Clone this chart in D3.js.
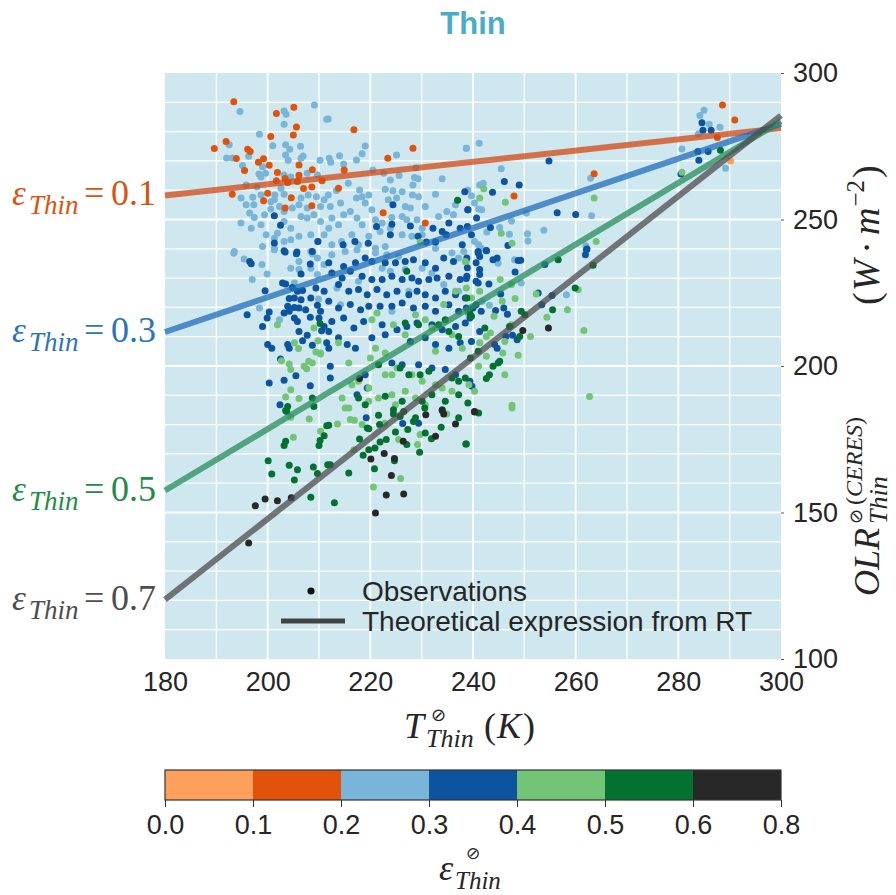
<!DOCTYPE html>
<html><head><meta charset="utf-8">
<script src="https://cdn.jsdelivr.net/npm/d3@7"></script>
<style>body{margin:0;background:#fff;}</style>
</head><body>
<svg id="chart" width="896" height="895"></svg>
<script>
// ---------------- data ----------------
const xTickValues = [180, 200, 220, 240, 260, 280, 300];
const yTickValues = [100, 150, 200, 250, 300];
const cbBounds = [0.0, 0.1, 0.2, 0.3, 0.4, 0.5, 0.6, 0.8];
const cbLabels = ["0.0", "0.1", "0.2", "0.3", "0.4", "0.5", "0.6", "0.8"];
const cbColors = ["#fda05b", "#e1530a", "#78b5d8", "#0c549f", "#72c476", "#03712f", "#282828"];

const lineEps = [0.1, 0.3, 0.5, 0.7];
const lineOLRat180 = [258.2, 211.6, 157.5, 120.3];
const lineOLRat300 = [281.2, 282.6, 283.5, 285.5];
const lineColors = ["#d34813", "#206dbb", "#288c5a", "#4e4c4e"];
const labelColors = ["#d9540c", "#2c74b5", "#238b45", "#4d4d4d"];

// observations [T (K), OLR (W m-2)], grouped by emissivity class
const obs_00_01 = [[290.2, 270.0]];
const obs_01_02 = [[193.4,290.2],[201.7,286.2],[205.1,288.3],[205.6,281.6],[205.0,278.8],[200.6,278.3],[191.9,276.6],[189.6,274.2],[196.1,274.0],[196.6,273.2],[193.9,270.8],[199.2,270.7],[198.2,269.5],[200.3,268.5],[206.1,268.6],[195.5,266.7],[208.7,267.0],[201.9,266.0],[206.1,265.1],[203.4,264.0],[201.7,263.2],[203.9,262.6],[205.8,263.0],[207.0,260.6],[208.6,261.1],[193.1,258.6],[200.0,259.0],[199.2,256.4],[204.6,257.4],[203.4,253.9],[208.6,254.7],[210.6,263.2],
  [216.8,280.6],[228.3,274.3],[223.4,270.9],[214.9,266.9],[213.8,260.7],[222.5,252.3],[230.7,248.8],[263.6,265.6],[248.0,258.0],[288.6,289.1],[291.0,284.0],[287.6,278.0]];
const obs_02_03 = [[194.6,286.9],[203.2,287.0],[203.6,285.9],[209.1,289.1],[211.5,284.2],[203.2,282.5],[198.4,279.1],[201.0,275.2],[203.5,275.5],[204.3,274.0],[206.4,275.0],[192.5,275.5],[192.0,271.0],[193.1,271.0],[196.3,271.6],[195.1,268.4],[203.5,272.0],[204.0,270.2],[206.9,271.7],[206.5,270.9],[210.2,270.2],[199.0,268.0],[199.6,265.8],[198.3,265.5],[198.7,264.5],[203.2,265.2],[204.5,264.5],[207.7,265.8],[209.7,265.2],[195.8,261.8],[197.9,261.1],[202.6,260.7],[203.2,258.6],[201.4,258.4],[194.8,257.3],[197.1,257.6],[198.7,258.4],[200.6,256.1],[195.8,255.0],[197.3,255.0],[201.3,256.7],[202.3,254.4],[206.5,257.3],[207.9,258.4],[209.5,257.8],[211.0,256.7],[210.3,254.4],[196.5,252.2],[197.4,250.7],[199.4,251.6],[200.6,253.6],[203.2,252.7],[204.8,253.9],[206.1,255.0],[207.7,253.9],[203.2,249.3],[204.5,247.0],[206.5,251.0],[207.7,250.5],[209.0,251.6],[210.3,249.3],[194.8,248.8],[196.8,247.0],[198.7,248.2],[199.7,244.8],[201.3,243.6],[201.9,245.3],[203.2,242.5],[204.5,243.1],[206.1,244.3],[208.4,244.8],[209.7,242.5],[211.0,244.8],[199.0,240.8],[201.3,240.2],[193.5,239.1],[208.4,239.1],
  [211.8,284.3],[219.0,275.1],[225.1,272.0],[217.3,270.3],[218.4,272.4],[214.0,271.8],[212.0,270.9],[212.3,269.5],[214.8,268.9],[220.5,266.9],[222.6,265.8],[228.9,267.7],[225.6,265.0],[223.9,263.5],[228.6,264.3],[229.3,263.9],[228.3,261.8],[234.0,263.9],[238.7,274.3],[215.7,262.4],[213.4,259.9],[211.8,258.4],[217.9,260.1],[222.9,260.3],[224.4,259.8],[225.1,257.3],[223.5,256.7],[219.7,258.4],[218.4,257.8],[217.3,257.3],[214.2,255.6],[212.2,254.4],[228.2,258.4],[229.4,257.8],[226.2,259.5],[232.7,258.6],[236.6,255.0],[226.8,254.4],[227.8,253.9],[230.7,254.4],[219.0,255.6],[220.3,253.3],[216.1,252.7],[214.8,251.6],[212.5,250.5],[213.8,248.2],[211.9,247.0],[217.4,250.5],[218.4,248.2],[221.0,249.9],[222.3,248.8],[224.2,250.7],[226.2,251.0],[227.1,249.9],[229.1,249.9],[230.1,247.0],[233.3,251.0],[234.9,252.7],[236.2,251.6],[214.4,242.5],[216.4,244.8],[219.7,244.3],[221.9,245.9],[223.9,247.0],[226.2,244.8],[228.1,244.3],[230.1,244.8],[232.7,242.5],[212.5,241.4],[217.7,241.4],[221.0,240.2],[222.9,240.8],[232.7,240.2],
  [241.2,276.0],[238.7,274.3],[245.5,267.3],[262.9,264.1],[241.3,261.8],[242.0,262.4],[239.0,260.1],[239.7,258.1],[240.3,255.6],[241.1,253.6],[241.7,253.3],[250.4,252.2],[247.5,249.5],[253.8,246.3],[263.1,251.3],[242.7,245.7],[245.2,247.3],[247.1,245.0],[250.6,245.1],[250.7,242.7],[240.3,242.5],[241.1,241.4],[241.6,240.2],[262.0,241.0],
  [193.4,238.5],[195.4,236.5],[198.9,234.6],[199.9,231.4],[197.0,229.5],[201.3,239.7],[204.5,233.4],[206.1,235.7],[208.7,238.2],[209.7,236.9],[211.0,234.6],[206.1,232.9],[208.4,233.4],[209.7,231.2],[209.9,222.9],[198.4,219.8],[202.3,215.8],[205.2,228.3],
  [212.5,238.0],[215.1,239.1],[217.4,239.7],[221.0,238.6],[223.2,238.0],[225.5,237.4],[222.3,233.4],[223.9,232.3],[226.8,232.9],[235.9,238.6],[237.2,236.9],[238.2,239.1],[230.1,233.4],[232.0,231.7],[213.5,226.6],[214.2,220.9],[217.7,228.9],[224.2,218.7],[227.5,225.5],[234.3,227.8],[237.2,225.5],
  [238.7,235.7],[244.9,235.1],[248.1,236.3],[249.4,228.3],[243.2,220.7],[258.2,224.3],[241.8,222.1],[239.0,218.1],
  [285.0,287.3],[284.2,285.5],[286.0,282.5],[288.1,281.5],[283.9,279.2],[280.7,274.1],[289.2,267.5]];
const obs_03_04 = [[201.3,251.3],[202.5,248.0],[201.3,242.0],[203.2,239.3],[205.7,238.9],[209.8,242.5],[208.7,239.1],
  [224.4,255.0],[221.2,247.6],[224.2,248.4],[227.8,247.8],[232.2,247.0],[234.0,245.9],[235.3,248.8],[234.8,244.8],[237.5,247.0],[238.9,247.6],[237.9,241.4],[223.9,244.8],[217.0,242.5],[219.6,241.9],[214.7,241.4],[229.3,244.3],[230.9,242.3],[232.7,242.3],[238.4,259.5],[239.0,253.3],
  [254.8,270.0],[246.1,263.0],[249.0,261.8],[243.8,259.3],[239.0,253.3],[240.7,250.5],[256.4,252.3],[260.0,251.7],[243.4,247.3],[239.7,244.8],[246.8,241.1],[242.6,239.3],[241.0,239.1],[262.2,239.9],
  [284.6,283.0],[284.8,280.5],[286.4,280.5],[283.8,273.2],[285.8,273.2],[284.0,270.2],[280.5,265.5],
  [196.5,235.7],[196.8,234.9],[203.4,238.9],[205.6,238.3],[208.3,234.8],[206.5,231.4],[202.9,228.3],[203.5,228.0],[204.8,226.8],[205.8,225.5],[206.8,225.8],[209.4,226.6],[211.0,225.5],[199.5,225.7],[204.2,223.0],[205.2,223.2],[206.5,222.6],[208.4,223.2],[203.9,220.4],[205.2,220.0],[206.1,219.8],[207.4,219.2],[209.7,220.7],[210.3,218.7],[203.2,218.1],[204.2,218.7],[200.3,218.4],[196.0,217.5],[199.9,216.4],[199.0,213.5],[205.2,216.4],[205.8,215.2],[208.3,216.6],[210.0,216.4],[211.0,213.5],[206.1,211.8],[207.7,210.5],[210.5,212.0],[206.8,208.6],[208.7,207.1],[203.9,207.3],[204.2,206.1],[200.0,207.3],[200.8,206.1],[202.5,202.4],[211.5,207.9],[205.5,196.7],[203.2,195.1],[200.3,194.2],[208.3,193.3],[202.4,186.8],
  [211.9,235.2],[214.8,234.0],[217.1,235.2],[219.0,236.9],[220.3,235.7],[222.9,235.2],[224.9,235.2],[226.8,235.7],[228.4,236.3],[230.7,235.2],[232.7,233.4],[234.3,236.9],[236.2,235.7],[238.8,236.9],[212.5,231.7],[214.5,230.0],[216.1,232.3],[218.4,230.6],[220.3,229.5],[222.3,229.5],[224.2,230.6],[226.2,229.5],[228.1,230.0],[229.4,228.9],[231.4,229.5],[233.0,230.0],[235.3,230.6],[237.5,229.5],[238.8,230.6],[213.8,227.8],[215.8,225.5],[217.7,226.1],[219.4,224.3],[221.3,226.1],[223.2,224.3],[225.2,225.5],[227.5,224.3],[229.1,225.5],[230.7,224.3],[232.7,223.2],[234.6,225.5],[236.6,224.3],[238.5,223.2],[211.9,222.1],[213.8,219.8],[216.1,221.0],[218.1,219.2],[219.7,220.4],[221.9,220.4],[224.2,220.4],[226.2,221.5],[228.4,219.8],[230.7,220.4],[232.7,218.7],[235.3,220.9],[237.2,218.7],[212.5,215.2],[214.8,216.4],[216.8,213.0],[218.7,215.2],[222.3,214.1],[225.2,212.4],[227.1,213.5],[229.1,214.7],[232.0,214.1],[234.0,212.4],[236.6,213.5],[238.5,214.7],[211.9,211.8],[213.8,209.6],[215.5,207.3],[217.1,206.1],[220.3,209.6],[222.9,210.7],[227.8,208.4],[230.7,209.6],[232.7,207.3],[235.3,206.1],[237.5,207.9],[211.9,206.1],[212.2,199.9],[224.2,201.0],[226.2,200.4],[229.4,200.4],[232.0,199.3],[234.6,198.8],[236.6,197.0],[219.0,197.0],[219.4,192.5],[217.4,190.2],[212.2,195.9],
  [241.0,238.6],[241.3,237.4],[242.6,239.4],[243.9,236.3],[244.7,236.9],[248.8,236.0],[249.3,236.1],[254.0,234.6],[262.1,239.7],[261.9,238.0],[240.6,235.2],[241.3,232.9],[241.3,231.2],[240.6,228.9],[241.0,228.3],[238.7,229.9],[238.9,233.5],[243.1,228.0],[248.2,232.1],[245.4,224.6],[238.7,219.8],[240.0,219.8],[240.6,220.9],[241.6,218.7],[244.4,218.9],[246.0,219.8],[246.7,217.7],[255.4,224.1],[253.4,220.9],[252.7,224.9],[239.4,216.4],[239.7,208.4],[241.3,211.8],[244.2,207.3],[244.7,206.1],[246.4,210.1],[247.7,210.5],[248.6,209.0],[239.4,194.8],[239.8,193.1],
  [219.2,182.3],[226.3,180.4],[229.4,180.5]];
const obs_04_05 = [[229.7,242.3],[242.1,260.5],[241.3,257.3],[246.3,255.9],[245.5,245.3],[247.6,241.9],[264.0,242.5],[263.6,257.3],[280.7,266.1],
  [201.9,214.1],[209.0,213.0],[209.8,208.6],[210.3,204.4],[205.2,207.9],[206.0,206.0],[209.4,204.8],[210.3,204.1],[202.7,201.8],[204.2,200.7],[204.5,198.8],[207.1,199.9],[208.0,201.6],[208.7,201.0],[207.6,199.1],[204.5,191.9],[203.5,189.4],[206.1,188.9],
  [204.5,182.5],[208.1,181.9],[205.0,175.7],[210.3,177.7],
  [213.8,207.9],[215.8,201.0],[220.0,202.7],[221.0,206.1],[222.9,204.4],[220.3,215.8],[221.3,218.1],[224.5,214.1],[226.8,210.7],[228.8,217.5],[230.7,215.8],[232.0,213.0],[232.7,205.0],[234.3,221.0],[236.6,225.5],[235.9,210.7],[237.9,206.1],[238.5,235.7],
  [216.4,193.6],[217.7,194.8],[219.7,192.5],[222.9,197.0],[224.2,197.0],[225.2,199.3],[228.1,197.0],[230.1,194.8],[232.7,193.6],[234.0,192.5],[235.9,191.4],[239.2,193.6],[214.5,189.1],[215.8,185.7],[219.7,188.0],[221.6,189.1],[224.2,190.2],[226.8,191.4],[228.8,189.1],[230.7,186.8],[224.9,186.8],
  [238.7,226.6],[241.3,225.5],[239.7,223.2],[245.3,229.5],[247.5,227.8],[248.2,223.0],[245.7,222.1],[244.1,217.0],[243.4,211.3],[242.6,210.1],[241.3,207.9],[246.2,208.4],[247.5,214.1],[252.3,224.6],[254.4,216.6],[258.4,219.2],[260.5,226.0],[261.6,212.1],[251.2,210.1],[248.8,203.7],[242.6,203.3],[245.8,204.4],[241.1,199.9],[246.2,197.0],[262.7,189.6],[247.6,186.6],[240.3,191.4],
  [213.6,180.2],[216.1,181.7],[216.9,181.5],[222.8,180.5],[218.4,180.0],[225.5,174.9],[229.7,176.6],[229.2,173.2],[234.9,183.6],[225.9,161.6],[220.6,158.7],[216.8,171.4],[215.1,185.7],[247.6,185.7]];
const obs_05_06 = [[237.0,256.6],[288.2,273.6],
  [210.2,214.5],[208.7,189.1],[209.0,186.2],[203.9,186.2],[203.5,184.8],
  [203.7,184.5],[203.5,174.3],[203.2,172.9],[200.1,167.7],[200.8,163.1],[204.2,166.1],[205.8,164.6],[205.2,161.1],[208.9,165.5],[209.7,163.3],[211.7,166.3],[210.0,172.9],[210.2,174.6],[211.0,176.2],[211.5,179.6],[208.4,155.2],
  [227.1,232.3],[226.8,214.7],[229.4,214.1],[235.3,211.8],[237.2,210.1],[238.8,223.2],[234.6,215.8],[233.3,214.1],[221.6,200.4],[225.8,199.3],[227.5,197.0],[229.7,197.0],[231.4,198.2],[235.9,195.9],[237.2,194.8],[238.5,195.9],[217.7,189.1],[219.0,186.8],[222.9,189.7],[226.2,188.0],[230.1,188.0],[232.0,190.2],[234.6,188.0],[237.2,190.2],[224.5,185.1],[226.5,184.5],
  [256.6,236.3],[263.4,234.4],[259.9,226.6],[255.5,219.2],[249.4,218.7],[250.1,217.5],[247.1,213.5],[249.1,210.1],[242.3,213.0],[241.0,205.0],[243.9,199.9],[244.9,201.0],[245.2,201.6],[243.2,197.0],[242.6,195.7],[239.0,187.4],[239.4,218.1],[239.7,217.0],[239.5,202.7],
  [211.9,179.8],[221.6,183.2],[224.5,183.6],[225.8,182.8],[228.8,182.3],[228.4,181.1],[219.4,178.8],[219.7,178.6],[221.8,180.0],[224.9,177.5],[227.3,178.3],[230.7,177.1],[231.9,175.2],[233.8,179.1],[234.0,185.1],[237.2,182.3],[217.9,175.1],[223.1,174.9],[221.9,174.1],[227.1,173.2],[229.6,170.6],[220.9,172.0],[219.7,171.4],[218.6,169.5],[224.7,167.7],[220.8,164.9],[212.2,166.3],[215.8,163.5],[213.0,153.3],[238.6,173.4],[230.6,185.7],
  [241.1,184.0],[238.7,173.4]];
const obs_06_08 = [[197.6,152.3],[199.5,154.6],[201.9,154.0],[204.6,155.0],[196.3,139.6],
  [217.9,195.7],[234.0,184.8],[249.7,212.1],[254.7,213.0],[240.3,184.5],
  [230.8,183.4],[234.3,183.6],[236.6,180.2],[232.7,176.0],[226.4,174.3],[222.7,170.1],[220.1,168.3],[224.7,168.4],[224.1,162.6],[223.1,156.0],[226.5,156.3],[221.0,149.8],[240.3,184.3]];

const obsGroups = [obs_00_01, obs_01_02, obs_02_03, obs_03_04, obs_04_05, obs_05_06, obs_06_08];
const drawOrder = [2, 3, 4, 5, 6, 0, 1];

// ---------------- chart ----------------
const svg = d3.select("#chart");
const L = 165, R = 781, T = 73, B = 659;
const x = d3.scaleLinear().domain([180, 300]).range([L, R]);
const y = d3.scaleLinear().domain([100, 300]).range([B, T]);
const sans = "'Liberation Sans', Arial, sans-serif";
const serif = "'Liberation Serif', 'DejaVu Serif', serif";
const symFont = "'DejaVu Sans', sans-serif";
const ink = "#262626";

svg.append("text").attr("x", (L + R) / 2).attr("y", 34).attr("text-anchor", "middle")
  .attr("font-family", sans).attr("font-weight", "bold").attr("font-size", 31)
  .attr("fill", "#4bacc9").text("Thin");

svg.append("rect").attr("x", L).attr("y", T).attr("width", R - L).attr("height", B - T).attr("fill", "#cfe8ef");

const grid = svg.append("g");
d3.range(190, 300, 10).forEach(t => {
  grid.append("line").attr("x1", x(t)).attr("x2", x(t)).attr("y1", T).attr("y2", B)
    .attr("stroke", "#fff").attr("stroke-width", t % 20 === 0 ? 1.8 : 1.3);
});
d3.range(110, 300, 10).forEach(o => {
  grid.append("line").attr("x1", L).attr("x2", R).attr("y1", y(o)).attr("y2", y(o))
    .attr("stroke", "#fff").attr("stroke-width", o % 50 === 0 ? 1.8 : 1.3);
});

// points
const pts = svg.append("g");
drawOrder.forEach(gi => {
  pts.selectAll(null).data(obsGroups[gi]).enter().append("circle")
    .attr("cx", d => x(d[0])).attr("cy", d => y(d[1])).attr("r", 3.5)
    .attr("fill", cbColors[gi]);
});

// theoretical lines + labels
const lg = svg.append("g");
lineEps.forEach((e, i) => {
  lg.append("line").attr("x1", x(180)).attr("y1", y(lineOLRat180[i]))
    .attr("x2", x(300)).attr("y2", y(lineOLRat300[i]))
    .attr("stroke", lineColors[i]).attr("stroke-width", 6).attr("stroke-opacity", 0.75);
  const t = svg.append("text").attr("y", y(lineOLRat180[i]) + 10)
    .attr("fill", labelColors[i]).attr("font-family", serif);
  t.append("tspan").attr("x", 12).attr("font-style", "italic").attr("font-size", 35).text("ε");
  t.append("tspan").attr("x", 29).attr("dy", 9).attr("font-style", "italic").attr("font-size", 27).text("Thin");
  t.append("tspan").attr("x", 84).attr("dy", -9).attr("font-size", 36).text("=");
  t.append("tspan").attr("x", 111).attr("font-size", 36).text(e.toFixed(1));
});

// axes
const xAxis = svg.append("g").attr("transform", `translate(0,${B})`)
  .call(d3.axisBottom(x).tickValues(xTickValues).tickSize(0).tickPadding(13).tickFormat(d3.format("d")));
xAxis.select(".domain").remove();
xAxis.selectAll("text").attr("font-family", sans).attr("font-size", 27).attr("fill", ink);

const yAxis = svg.append("g").attr("transform", `translate(${R},0)`)
  .call(d3.axisRight(y).tickValues(yTickValues).tickSize(3).tickPadding(9).tickFormat(d3.format("d")));
yAxis.select(".domain").remove();
yAxis.selectAll("line").attr("stroke", "#555");
yAxis.selectAll("text").attr("font-family", sans).attr("font-size", 27).attr("fill", ink);

// x label (single text element)
const xl = svg.append("text").attr("font-family", serif).attr("fill", ink);
xl.append("tspan").attr("x", 404).attr("y", 738).attr("font-style", "italic").attr("font-size", 36).text("T");
xl.append("tspan").attr("x", 431).attr("y", 721).attr("font-family", symFont).attr("font-size", 18).text("⊘");
xl.append("tspan").attr("x", 426).attr("y", 747).attr("font-style", "italic").attr("font-size", 26).text("Thin");
xl.append("tspan").attr("x", 484).attr("y", 738).attr("font-size", 36).text("(");
xl.append("tspan").attr("dx", 1).attr("font-style", "italic").attr("font-size", 36).text("K");
xl.append("tspan").attr("dx", 2).attr("font-size", 36).text(")");

// right label (rotated)
const rg = svg.append("g").attr("transform", "translate(879,372) rotate(-90)");
const rl = rg.append("text").attr("font-family", serif).attr("fill", ink);
rl.append("tspan").attr("x", -224).attr("y", 0).attr("font-style", "italic").attr("font-size", 36).text("OLR");
rl.append("tspan").attr("x", -152).attr("y", -17).attr("font-family", symFont).attr("font-size", 18).text("⊘");
rl.append("tspan").attr("dx", 4).attr("font-size", 24).text("(");
rl.append("tspan").attr("font-style", "italic").attr("font-size", 24).text("CERES");
rl.append("tspan").attr("font-size", 24).text(")");
rl.append("tspan").attr("x", -152).attr("y", 8).attr("font-style", "italic").attr("font-size", 26).text("Thin");
rl.append("tspan").attr("x", 67).attr("y", 0).attr("font-size", 38).text("(");
rl.append("tspan").attr("dx", 1).attr("font-style", "italic").attr("font-size", 38).text("W");
rl.append("tspan").attr("dx", 6).attr("font-size", 38).text("·");
rl.append("tspan").attr("dx", 6).attr("font-style", "italic").attr("font-size", 38).text("m");
rl.append("tspan").attr("dy", -15).attr("dx", 1).attr("font-size", 25).text("−2");
rl.append("tspan").attr("dy", 15).attr("dx", 2).attr("font-size", 38).text(")");

// legend
svg.append("circle").attr("cx", 311).attr("cy", 591).attr("r", 3.6).attr("fill", "#111");
svg.append("line").attr("x1", 281).attr("x2", 345).attr("y1", 621).attr("y2", 621)
  .attr("stroke", "#444").attr("stroke-width", 5);
svg.append("text").attr("x", 362).attr("y", 601).attr("font-family", sans).attr("font-size", 28)
  .attr("fill", ink).text("Observations");
svg.append("text").attr("x", 362).attr("y", 631).attr("font-family", sans).attr("font-size", 28)
  .attr("fill", ink).text("Theoretical expression from RT");

// colorbar
const cb = d3.scalePoint().domain(cbBounds).range([L, R]);
const cbTop = 770, cbH = 30;
const cbg = svg.append("g");
cbColors.forEach((c, i) => {
  cbg.append("rect").attr("x", cb(cbBounds[i])).attr("y", cbTop)
    .attr("width", cb(cbBounds[i + 1]) - cb(cbBounds[i])).attr("height", cbH).attr("fill", c);
});
cbg.append("rect").attr("x", L).attr("y", cbTop).attr("width", R - L).attr("height", cbH)
  .attr("fill", "none").attr("stroke", "#333").attr("stroke-width", 1.2);
const cbAxis = svg.append("g").attr("transform", `translate(0,${cbTop + cbH})`)
  .call(d3.axisBottom(cb).tickSize(7).tickPadding(8).tickFormat((d, i) => cbLabels[i]));
cbAxis.select(".domain").remove();
cbAxis.selectAll("line").attr("stroke", "#333");
cbAxis.selectAll("text").attr("font-family", sans).attr("font-size", 27).attr("fill", ink);

const cl = svg.append("text").attr("font-family", serif).attr("fill", ink);
cl.append("tspan").attr("x", 439).attr("y", 880).attr("font-style", "italic").attr("font-size", 36).text("ε");
cl.append("tspan").attr("x", 466).attr("y", 859).attr("font-family", symFont).attr("font-size", 17).text("⊘");
cl.append("tspan").attr("x", 455).attr("y", 889).attr("font-style", "italic").attr("font-size", 25).text("Thin");
</script>
</body></html>
